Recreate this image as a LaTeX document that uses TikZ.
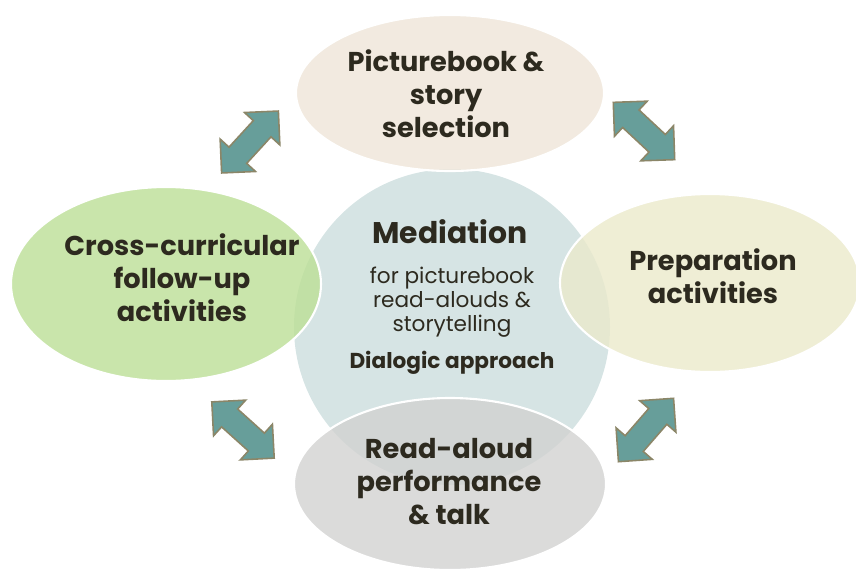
\documentclass[tikz,border=0pt]{standalone}
\usepackage{fontspec}
\setmainfont{Poppins}
\usepackage{tikz}
\definecolor{hubfill}{HTML}{D6E4E4}
\definecolor{selfill}{HTML}{EFE5D8}
\definecolor{crossfill}{HTML}{BCDF96}
\definecolor{prepfill}{HTML}{EBEACB}
\definecolor{readfill}{HTML}{D2D2D1}
\definecolor{arrowfill}{HTML}{679E9A}
\definecolor{arrowline}{HTML}{8B8668}
\definecolor{inktext}{HTML}{2D2A1F}

\begin{document}
\begin{tikzpicture}[
    x=0.02cm, y=-0.02cm,
    stage/.style={white, line width=1.2pt, fill opacity=0.8},
    stagetext/.style={text=inktext, align=center,
                  font=\fontsize{15.5}{18.8}\selectfont\bfseries},
    twoway/.pic={
      \draw[arrowline, line width=0.9pt, fill=arrowfill, line join=miter]
        (-42,0) -- (-18,-24) -- (-18,-12) -- (18,-12) -- (18,-24) -- (42,0)
        -- (18,24) -- (18,12) -- (-18,12) -- (-18,24) -- cycle;
    }
    ]
\useasboundingbox (0,0) rectangle (856,572);
% hub
\fill[hubfill] (452,327) circle[radius=158];
% stages round the hub
\draw[stage, fill=selfill] (450,93) ellipse[x radius=154, y radius=78];
\draw[stage, fill=crossfill] (166,284) ellipse[x radius=155, y radius=97];
\draw[stage, fill=prepfill] (710,283) ellipse[x radius=150, y radius=89];
\draw[stage, fill=readfill] (450,484) ellipse[x radius=156, y radius=86];
% texts
\node[stagetext] (sel) at (446,94) {Picturebook \&\\story\\selection};
\node[stagetext] (cross) at (182,278) {Cross-curricular\\follow-up\\activities};
\node[stagetext] (prep) at (713,276) {Preparation\\activities};
\node[stagetext] (read) at (449,482) {Read-aloud\\performance\\\& talk};
\node[text=inktext, font=\fontsize{17}{20}\selectfont\bfseries] (med) at (450,232) {Mediation};
\node[text=inktext, align=center, font=\fontsize{12.3}{13.8}\selectfont] (medsub) at (452,302) {for picturebook\\read-alouds \&\\storytelling};
\node[text=inktext, font=\fontsize{12.3}{14}\selectfont\bfseries] (dia) at (452,363) {Dialogic approach};
% arrows between the stages
\pic[rotate=47.5] (a1) at (250,142) {twoway};
\pic[rotate=-43] (a2) at (644,131) {twoway};
\pic[rotate=-42] (a3) at (243,430) {twoway};
\pic[rotate=49] (a4) at (646,430) {twoway};
\end{tikzpicture}
\end{document}
